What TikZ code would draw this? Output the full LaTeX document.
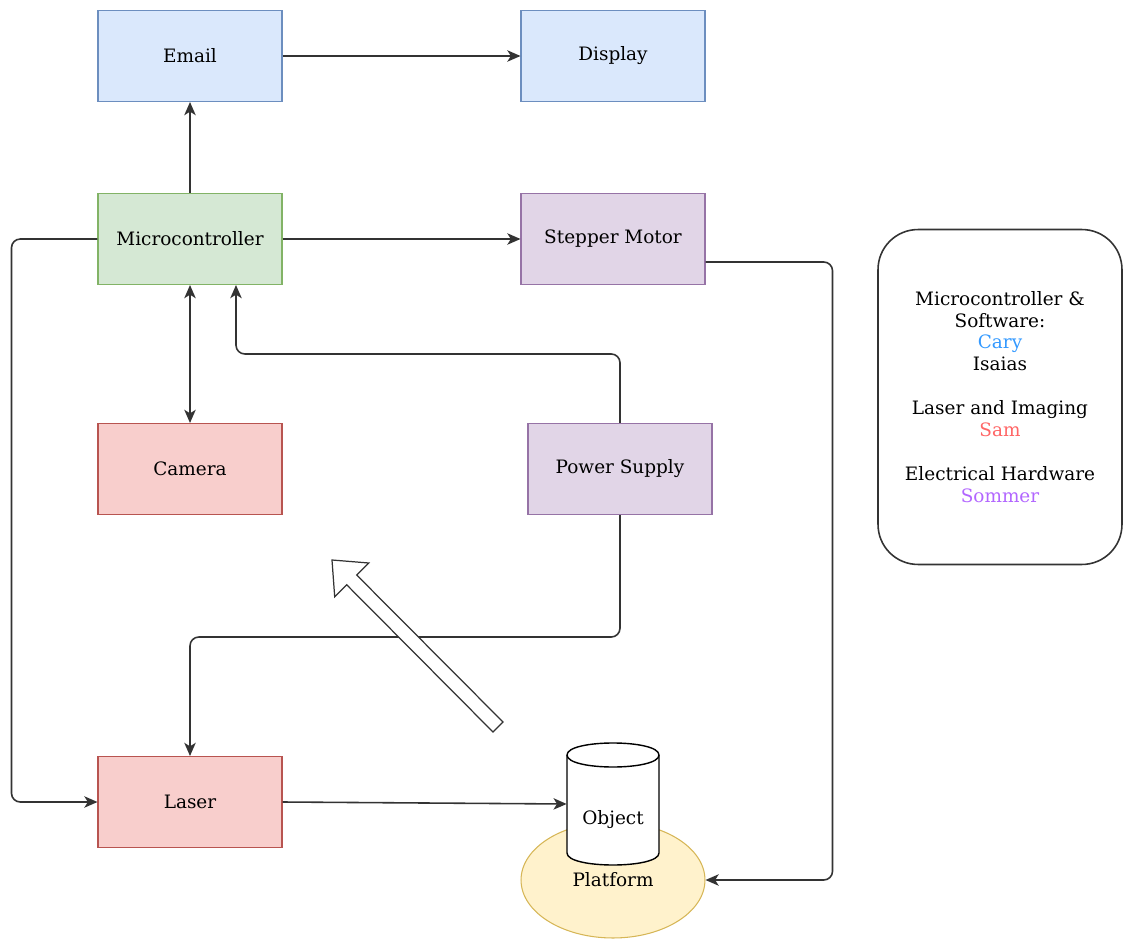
\documentclass[tikz,border=0pt]{standalone}
\usepackage{fontspec}
\setmainfont{DejaVu Serif}
\usetikzlibrary{arrows.meta,shapes.geometric}
\definecolor{blueFill}{HTML}{DAE8FC}
\definecolor{blueLine}{HTML}{6C8EBF}
\definecolor{greenFill}{HTML}{D5E8D4}
\definecolor{greenLine}{HTML}{82B366}
\definecolor{purpleFill}{HTML}{E1D5E7}
\definecolor{purpleLine}{HTML}{9673A6}
\definecolor{redFill}{HTML}{F8CECC}
\definecolor{redLine}{HTML}{B85450}
\definecolor{yellowFill}{HTML}{FFF2CC}
\definecolor{yellowLine}{HTML}{D6B656}
\definecolor{caryBlue}{HTML}{3399FF}
\definecolor{samRed}{HTML}{FF6666}
\definecolor{sommerPurple}{HTML}{B266FF}
\definecolor{darkLine}{HTML}{333333}

\begin{document}
\begin{tikzpicture}
  [x=0.02cm,y=-0.02cm,
   every node/.style={font=\fontsize{10.5}{12.5}\selectfont},
   block/.style={rectangle,draw,line width=0.6pt,minimum width=3.68cm,minimum height=1.82cm},
   conn/.style={draw=darkLine,line width=0.9pt,rounded corners=5pt,-{Stealth[length=7.5pt,width=6.5pt,inset=2pt]}}]
  \useasboundingbox (0,0) rectangle (1126,939);

  \node[block,fill=blueFill,draw=blueLine] (email) at (190,56) {Email};
  \node[block,fill=blueFill,draw=blueLine] (display) at (613,56) {Display};
  \node[block,fill=greenFill,draw=greenLine] (micro) at (190,239) {Microcontroller};
  \node[block,fill=purpleFill,draw=purpleLine] (stepper) at (613,239) {Stepper Motor};
  \node[block,fill=redFill,draw=redLine] (camera) at (190,469) {Camera};
  \node[block,fill=purpleFill,draw=purpleLine] (power) at (620,469) {Power Supply};
  \node[block,fill=redFill,draw=redLine] (laser) at (190,802) {Laser};

  \node[ellipse,fill=yellowFill,draw=yellowLine,line width=0.6pt,inner sep=0pt,
        minimum width=3.68cm,minimum height=2.32cm] (platform) at (613,880) {Platform};
  \filldraw[fill=white,draw=black,line width=0.8pt] (567,755) -- (567,853)
    .. controls (567,869) and (659,869) .. (659,853) -- (659,755)
    .. controls (659,739) and (567,739) .. (567,755) -- cycle;
  \draw[line width=0.8pt] (567,755) .. controls (567,771) and (659,771) .. (659,755);
  \node[minimum width=1.84cm,minimum height=2.44cm] (object) at (613,804) {};
  \node (objtext) at (613,820) {Object};

  \node[draw=darkLine,line width=0.9pt,rounded corners=0.8cm,minimum width=4.88cm,
        minimum height=6.7cm,align=center] (legend) at (1000,397)
    {Microcontroller \&\\Software:\\\textcolor{caryBlue}{Cary}\\Isaias\\[12.5pt]
     Laser and Imaging\\\textcolor{samRed}{Sam}\\[12.5pt]
     Electrical Hardware\\\textcolor{sommerPurple}{Sommer}};

  \draw[conn] (email) -- (display);
  \draw[conn] (micro) -- (email);
  \draw[conn] (micro) -- (stepper);
  \draw[conn,{Stealth[length=7.5pt,width=6.5pt,inset=2pt]}-{Stealth[length=7.5pt,width=6.5pt,inset=2pt]}] (micro) -- (camera);
  \draw[conn] (power.north) -- ++(0,-69) -| ([xshift=0.92cm]micro.south);
  \draw[conn] (micro.west) -- ++(-86,0) |- (laser.west);
  \draw[conn] ([yshift=-0.46cm]stepper.east) -- ++(127,0) |- (platform.east);
  \draw[conn] (power.south) -- ++(0,122) -| (laser.north);
  \draw[conn] (laser.east) -- (object.west);

  \filldraw[fill=white,draw=darkLine,line width=0.7pt] (503,722) -- (356.7,575) -- (368.7,563)
    -- (332,560) -- (334.7,596.8) -- (346.7,584.8) -- (493,732) -- cycle;
\end{tikzpicture}
\end{document}
